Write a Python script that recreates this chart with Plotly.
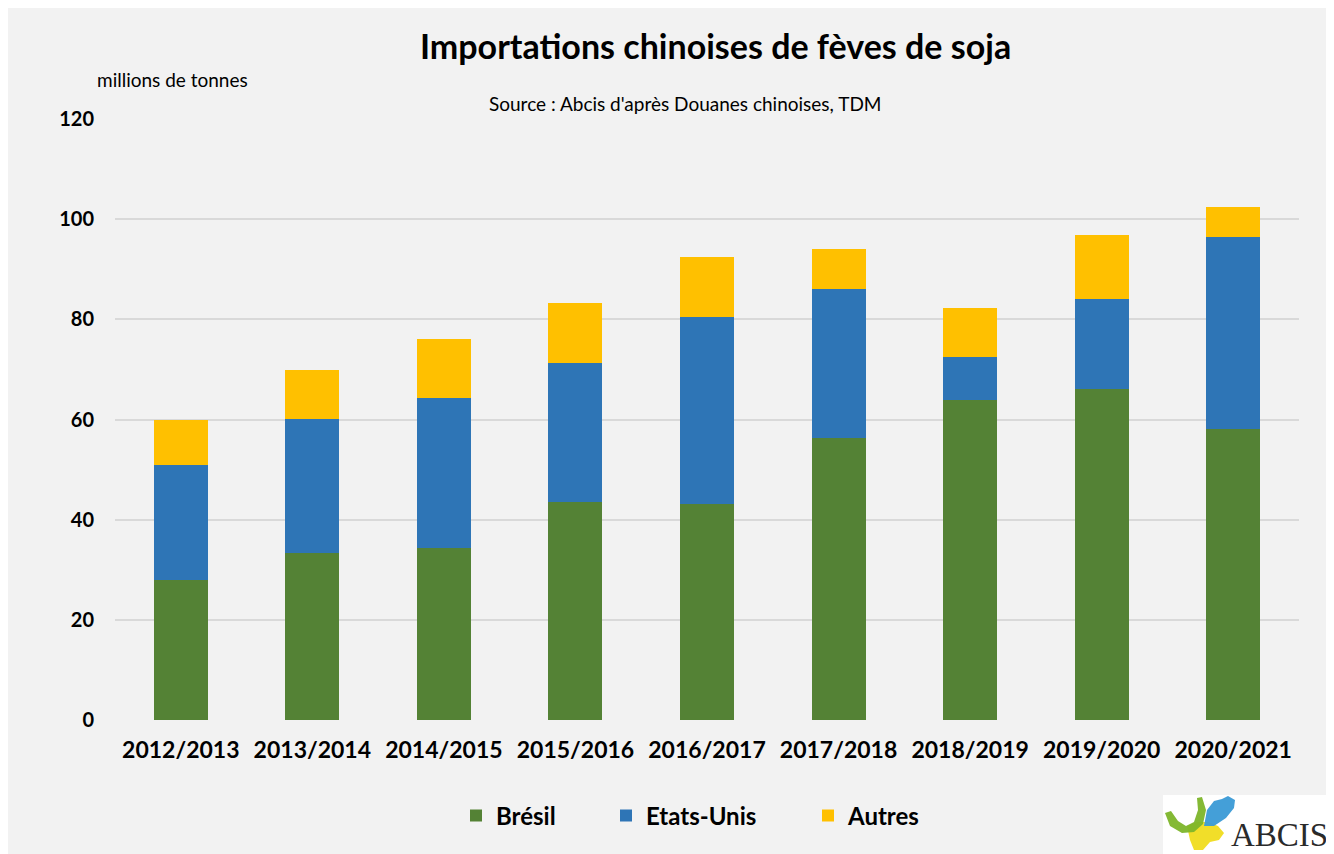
import plotly.graph_objects as go

categories = ["2012/2013", "2013/2014", "2014/2015", "2015/2016", "2016/2017",
              "2017/2018", "2018/2019", "2019/2020", "2020/2021"]
bresil = [27.9, 33.3, 34.4, 43.6, 43.1, 56.4, 63.9, 66.0, 58.2]
etats_unis = [23.0, 26.9, 29.8, 27.7, 37.3, 29.6, 8.6, 18.0, 38.3]
autres = [9.1, 9.7, 11.8, 11.9, 12.1, 8.0, 9.7, 12.8, 6.0]
y_ticks = [0, 20, 40, 60, 80, 100, 120]

OFF = 8  # default body margin of the html page
W, H = 1334, 854
FIG_W, FIG_H = W, H - OFF
L, R, T, B = 115, 1299, 119, 720  # plot area in page pixels


def px(x):
    return (x - L) / (R - L)


def py(y):
    return (B - y) / (B - T)


FONT = "Lato"
fig = go.Figure()
series = [("Brésil", bresil, "#548235", "legend", 456),
          ("Etats-Unis", etats_unis, "#2e75b6", "legend2", 606),
          ("Autres", autres, "#ffc000", "legend3", 808)]
for name, vals, col, lg, _ in series:
    fig.add_trace(go.Bar(x=categories, y=vals, name=name, marker_color=col,
                         marker_line_width=0, legend=lg))

legend_common = dict(orientation="h", xanchor="left", yanchor="middle", y=py(816),
                     font=dict(size=24, weight="bold", family=FONT),
                     bgcolor="rgba(0,0,0,0)", itemwidth=30)
legends = {}
for name, vals, col, lg, lx in series:
    legends[lg] = dict(legend_common, x=px(lx))

fig.update_layout(
    width=FIG_W, height=FIG_H, barmode="stack", bargap=0.59,
    paper_bgcolor="#f2f2f2", plot_bgcolor="#f2f2f2",
    margin=dict(l=L - OFF, r=FIG_W - (R - OFF), t=T - OFF, b=FIG_H - (B - OFF),
                autoexpand=False),
    font=dict(family=FONT, color="#000000"),
    showlegend=True,
    **legends,
)
fig.update_yaxes(range=[0, 120], tickvals=y_ticks, showgrid=True, gridcolor="#d9d9d9",
                 gridwidth=1.5, zeroline=False, showline=False, ticks="",
                 tickfont=dict(size=20, weight="bold", family=FONT), ticklabelstandoff=20)
fig.update_xaxes(showgrid=False, showline=False, ticks="",
                 tickfont=dict(size=23, weight="bold", family=FONT), ticklabelstandoff=14)

anns = [
    dict(text="Importations chinoises de fèves de soja", x=px(715), y=py(45),
         font=dict(size=34, weight="bold", family=FONT)),
    dict(text="millions de tonnes", x=px(172), y=py(79), font=dict(size=19, family=FONT)),
    dict(text="Source : Abcis d'après Douanes chinoises, TDM", x=px(685), y=py(103),
         font=dict(size=19, family=FONT)),
]
for a in anns:
    fig.add_annotation(xref="paper", yref="paper", showarrow=False,
                       xanchor="center", yanchor="middle", **a)
fig.add_annotation(xref="paper", yref="paper", showarrow=False, xanchor="right",
                   yanchor="middle", x=px(1330), y=py(835), text="ABCIS",
                   font=dict(size=33, family="Liberation Serif", color="#2a2a2a"))

shapes = [
    dict(type="rect", x0=px(1163), x1=px(W + 20), y0=py(795), y1=py(860), fillcolor="white",
         line_width=0),
]


def path(points):
    return "M " + " L ".join(f"{px(x):.5f},{py(y):.5f}" for x, y in points) + " Z"


green_arc = [(1165, 813), (1171, 811), (1178, 821), (1186, 826), (1194, 822), (1198, 810),
             (1197, 798), (1202, 797), (1206, 810), (1203, 824), (1194, 832), (1182, 833),
             (1170, 826)]
blue_leaf = [(1204, 826), (1207, 810), (1214, 801), (1222, 799), (1228, 796), (1235, 800),
             (1234, 808), (1226, 818), (1214, 826)]
yellow_blob = [(1187, 826), (1197, 822), (1208, 822), (1218, 826), (1224, 833), (1219, 840),
               (1210, 842), (1203, 850), (1194, 850), (1190, 840)]
for pts, col in [(yellow_blob, "#f0dc1e"), (green_arc, "#7db52a"), (blue_leaf, "#3a9ad6")]:
    shapes.append(dict(type="path", path=path(pts), fillcolor=col, line_width=0, opacity=0.95))
for s in shapes:
    s.setdefault("xref", "paper")
    s.setdefault("yref", "paper")
    s.setdefault("layer", "above")
fig.update_layout(shapes=shapes)

fig.write_html("out.html")
